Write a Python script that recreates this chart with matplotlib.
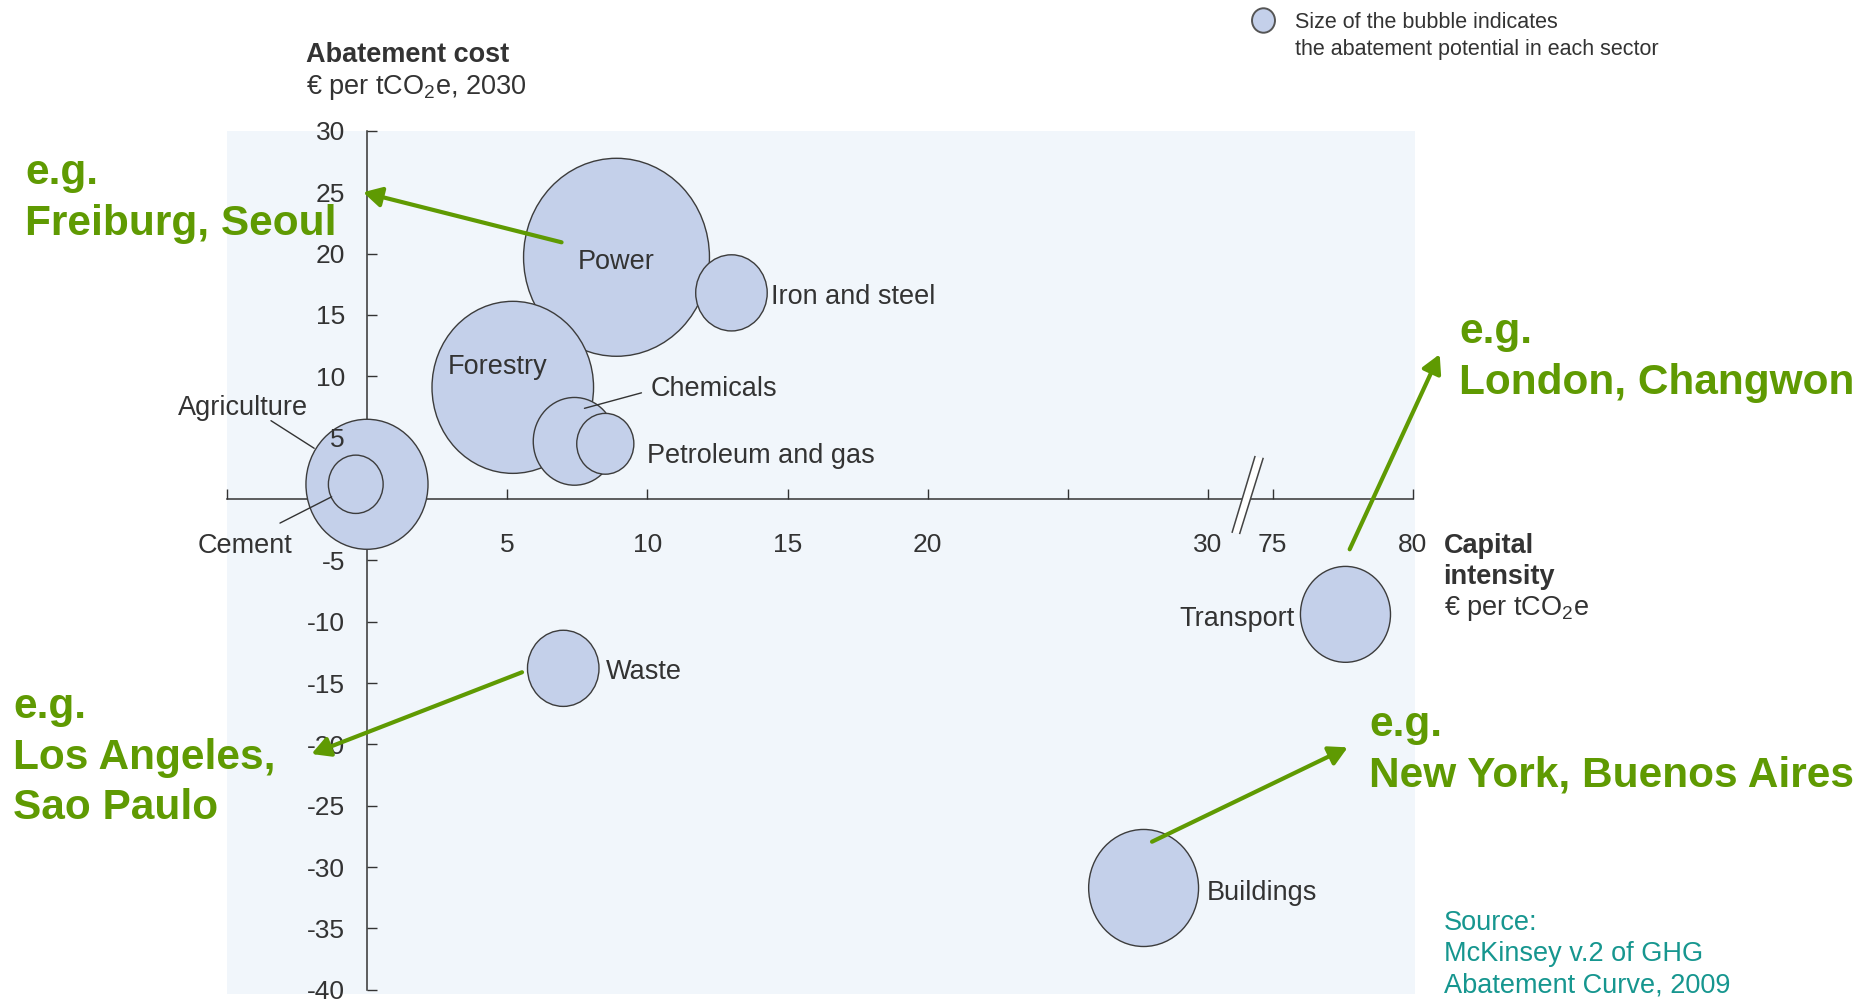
import numpy as np
import matplotlib
matplotlib.use('Agg')
import matplotlib.pyplot as plt
from matplotlib.path import Path
from matplotlib.markers import MarkerStyle
from matplotlib.transforms import Affine2D, offset_copy

plt.rcParams['font.family'] = ['Liberation Sans', 'DejaVu Sans']
plt.rcParams['mathtext.fontset'] = 'custom'
plt.rcParams['mathtext.rm'] = 'Liberation Sans'
plt.rcParams['mathtext.bf'] = 'Liberation Sans:bold'
plt.rcParams['axes.unicode_minus'] = False

# sector bubbles: x = capital intensity, y = abatement cost, size = abatement potential (relative)
sectors = ['Power', 'Iron and steel', 'Forestry', 'Chemicals', 'Petroleum and gas',
           'Agriculture', 'Cement', 'Waste', 'Transport', 'Buildings']
capital_intensity = [8.9, 13.0, 5.2, 7.4, 8.5, 0.0, -0.4, 7.0, 77.6, 27.7]
abatement_cost = [19.7, 16.8, 9.1, 4.7, 4.5, 1.2, 1.2, -13.8, -9.4, -31.7]
abatement_potential = [3.92, 0.58, 2.96, 0.77, 0.37, 1.69, 0.34, 0.58, 0.92, 1.37]

x_ticks = [-5, 0, 5, 10, 15, 20, 25, 30, 75, 80]
x_tick_labels = ['', '', '5', '10', '15', '20', '', '30', '75', '80']
y_ticks = list(range(-40, 31, 5))
y_tick_labels = ['' if v == 0 else str(v) for v in y_ticks]

# city examples: text lines and arrow (tail -> head) in data units
example_lines = [['e.g.', 'Freiburg, Seoul'],
                 ['e.g.', 'Los Angeles,', 'Sao Paulo'],
                 ['e.g.', 'London, Changwon'],
                 ['e.g.', 'New York, Buenos Aires']]
arrow_tails = [(6.94, 20.92), (5.53, -14.12), (77.75, -4.1), (28.0, -27.93)]
arrow_heads = [(-0.14, 25.0), (-1.98, -20.78), (80.96, 11.8), (77.68, -20.24)]

source_lines = ['Source:', 'McKinsey v.2 of GHG', 'Abatement Curve, 2009']

# layout (pixels)
W, H = 1860, 1000
example_pos = [(25, 184), (13, 718), (1459, 343), (1369, 736)]
label_offsets = {  # dx, dy from bubble centre, ha
    'Power': (0, -11.6, 'center'),
    'Iron and steel': (40, -11.2, 'left'),
    'Forestry': (-15, 13, 'center'),
    'Chemicals': (75.7, 45, 'left'),
    'Petroleum and gas': (41.5, -19, 'left'),
    'Agriculture': (-59.4, 69.6, 'right'),
    'Cement': (-63.4, -68.8, 'right'),
    'Waste': (42.5, -10.7, 'left'),
    'Transport': (-50.7, -11.2, 'right'),
    'Buildings': (62.9, -12.4, 'left'),
}
leaders = {
    'Chemicals': ((10, 33), (67, 48.5)),
    'Agriculture': ((-52.8, 36), (-96, 63.6)),
    'Cement': ((-24.1, -12.5), (-75.8, -38.8)),
}

PANEL = '#F1F6FB'
BUBBLE = '#C4D0EA'
EDGE = '#3C3C3C'
TXT = '#333333'
GREEN = '#5F9A02'
TEAL = '#16968F'

BREAK_LO, BREAK_HI, BREAK_GAP = 30.0, 75.0, 2.3


def fwd(x):
    x = np.asarray(x, dtype=float)
    mid = BREAK_LO + (x - BREAK_LO) * BREAK_GAP / (BREAK_HI - BREAK_LO)
    return np.where(x <= BREAK_LO, x,
                    np.where(x >= BREAK_HI, x - BREAK_HI + BREAK_LO + BREAK_GAP, mid))


def inv(u):
    u = np.asarray(u, dtype=float)
    top = BREAK_LO + BREAK_GAP
    mid = BREAK_LO + (u - BREAK_LO) * (BREAK_HI - BREAK_LO) / BREAK_GAP
    return np.where(u <= BREAK_LO, u, np.where(u >= top, u - top + BREAK_HI, mid))


def fx(px):
    return px / W


def fy(py):
    return 1 - py / H


def main():
    fig = plt.figure(figsize=(W / 100, H / 100), dpi=100, facecolor='white')
    ax = fig.add_axes([fx(226.8), fy(993.5), (1415 - 226.8) / W, (993.5 - 130.9) / H])
    ax.set_facecolor(PANEL)
    ax.set_xscale('function', functions=(fwd, inv))
    ax.set_xlim(-5, 80.08)
    ax.set_ylim(-40.3, 30)

    for side in ['top', 'right']:
        ax.spines[side].set_visible(False)
    ax.spines['left'].set_position(('data', 0))
    ax.spines['bottom'].set_position(('data', 0))
    ax.spines['left'].set_bounds(-40, 30)
    ax.spines['bottom'].set_bounds(-5, 80)
    for side in ['left', 'bottom']:
        ax.spines[side].set_color(TXT)
        ax.spines[side].set_linewidth(1.1)
        ax.spines[side].set_zorder(2)

    ax.set_xticks(x_ticks)
    ax.set_xticklabels(x_tick_labels)
    ax.set_yticks(y_ticks)
    ax.set_yticklabels(y_tick_labels)
    ax.xaxis.set_minor_locator(matplotlib.ticker.NullLocator())
    ax.tick_params(axis='x', direction='in', length=7, width=1, color=TXT,
                   labelcolor=TXT, labelsize=19, pad=24.5)
    ax.tick_params(axis='y', direction='in', length=7, width=1, color=TXT,
                   labelcolor=TXT, labelsize=19, pad=15.8)
    ax.xaxis.set_zorder(2)
    ax.yaxis.set_zorder(4)
    for t, v in zip(ax.yaxis.get_major_ticks(), y_ticks):
        if v in (0, 5):
            t.tick1line.set_visible(False)

    # bubbles (slightly tall ellipses as in the original)
    ellipse = MarkerStyle(Path.unit_circle().transformed(Affine2D().scale(1, 1.065)))
    ax.scatter(capital_intensity, abatement_cost, s=np.array(abatement_potential) * 5184,
               marker=ellipse, facecolor=BUBBLE, edgecolor=EDGE, linewidth=1.0, zorder=3)

    for name, cx, cy in zip(sectors, capital_intensity, abatement_cost):
        dx, dy, ha = label_offsets[name]
        ax.annotate(name, xy=(cx, cy), xytext=(dx, dy), textcoords='offset pixels',
                    ha=ha, va='baseline', fontsize=19.5, color=TXT, zorder=5)

    for name, (near, far) in leaders.items():
        i = sectors.index(name)
        c = (capital_intensity[i], abatement_cost[i])
        ax.annotate('', xy=c, xytext=c,
                    xycoords=offset_copy(ax.transData, fig=fig, x=near[0], y=near[1], units='dots'),
                    textcoords=offset_copy(ax.transData, fig=fig, x=far[0], y=far[1], units='dots'),
                    arrowprops=dict(arrowstyle='-', color=TXT, lw=1, shrinkA=0, shrinkB=0),
                    zorder=5)

    # axis break marks
    ub = [30.86, 31.67, 31.96, 31.13]
    yb = [-2.7, 3.45, 3.3, -2.8]
    ax.fill(inv(ub), yb, facecolor='white', edgecolor='none', zorder=4, clip_on=False)
    ax.plot(inv(ub[:2]), yb[:2], color='#444444', lw=1.1, zorder=4, clip_on=False)
    ax.plot(inv(ub[3:1:-1]), [yb[3], yb[2]], color='#444444', lw=1.1, zorder=4, clip_on=False)

    # green example arrows
    for tail, head in zip(arrow_tails, arrow_heads):
        ax.annotate('', xy=head, xytext=tail, annotation_clip=False,
                    arrowprops=dict(arrowstyle='-|>,head_length=0.55,head_width=0.3',
                                    mutation_scale=20, color=GREEN, lw=3,
                                    shrinkA=0, shrinkB=0), zorder=6)

    for lines, (px, py) in zip(example_lines, example_pos):
        for k, line in enumerate(lines):
            fig.text(fx(px), fy(py + 50.7 * k), line, fontsize=30.5, fontweight='bold',
                     color=GREEN, ha='left', va='baseline', zorder=7)

    # axis titles
    fig.text(fx(306), fy(62), 'Abatement cost', fontsize=19.5, fontweight='bold',
             color=TXT, va='baseline')
    fig.text(fx(306), fy(94.5), '€ per tCO$_2$e, 2030', fontsize=19.5, color=TXT, va='baseline')
    fig.text(fx(1443.6), fy(553), 'Capital', fontsize=19.5, fontweight='bold', color=TXT, va='baseline')
    fig.text(fx(1443.6), fy(584), 'intensity', fontsize=19.5, fontweight='bold', color=TXT, va='baseline')
    fig.text(fx(1443.6), fy(615), '€ per tCO$_2$e', fontsize=19.5, color=TXT, va='baseline')

    # bubble size note
    ax.scatter([fx(1262.5)], [fy(19.5)], s=310, marker=ellipse, facecolor=BUBBLE,
               edgecolor='#555555', linewidth=1.4, transform=fig.transFigure, clip_on=False)
    fig.text(fx(1295), fy(28.5), 'Size of the bubble indicates', fontsize=15.5, color=TXT, va='baseline')
    fig.text(fx(1295), fy(54.5), 'the abatement potential in each sector', fontsize=15.5,
             color=TXT, va='baseline')

    for k, line in enumerate(source_lines):
        fig.text(fx(1444), fy(929.5 + 31.3 * k), line, fontsize=19.5, color=TEAL, va='baseline')

    fig.savefig('out.png', dpi=100, facecolor='white')


if __name__ == '__main__':
    main()
